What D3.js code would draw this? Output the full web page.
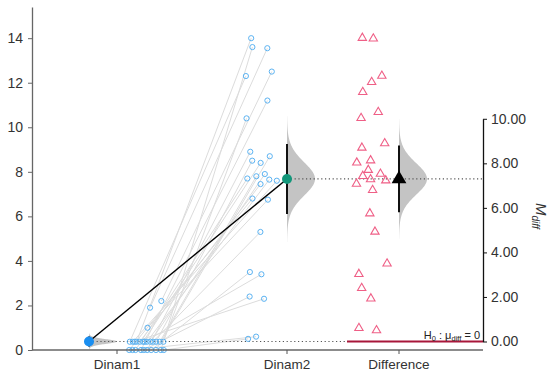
<!DOCTYPE html>
<html><head><meta charset="utf-8">
<script src="https://cdn.jsdelivr.net/npm/d3@7"></script>
<style>body{margin:0;background:#fff;} svg{display:block;font-family:"Liberation Sans",Arial,sans-serif;}</style>
</head><body><svg id="c" width="550" height="378"></svg>
<script>
// ---- data ----
const categories = ["Dinam1", "Dinam2", "Difference"];
const dinam1 = [0.37,0,1.9,2.2,0.37,0,0.37,0,0,0.37,0.37,0.37,0.37,0,0.37,0.37,0.37,0,1.0,0.37,0,0.37,0,0.37,0,0];
const dinam2 = [14.0,13.6,13.55,12.5,12.3,11.2,10.4,8.9,8.7,8.5,8.4,7.9,7.8,7.7,7.65,7.6,7.45,6.8,6.75,5.3,3.5,3.4,2.4,2.3,0.6,0.5];
const leftTicks = [0,2,4,6,8,10,12,14];
const rightTicks = [0,2,4,6,8,10];
const tCrit = 2.0595; // t(0.975, df=25)

// ---- layout ----
const svg = d3.select("#c");
const axisL = 32, axisR = 483, baseY = 350;
const y = d3.scaleLinear().domain([0, 15.4]).range([baseY, 7]);
const xTick = d3.scaleOrdinal().domain(categories).range([117, 287, 399]);

const diff = dinam2.map((v, i) => v - dinam1[i]);
const m1 = d3.mean(dinam1), m2 = d3.mean(dinam2), md = d3.mean(diff);
const se = a => d3.deviation(a) / Math.sqrt(a.length);
const y2 = d3.scaleLinear().domain([0, 10]).range([y(m1), y(m1 + 10)]);

// deterministic jitter: random offset, re-drawn if it collides
function rng(seed){ let s = seed >>> 0; return () => { s = (Math.imul(s, 1664525) + 1013904223) >>> 0; return s / 4294967296; }; }
function jitter(pys, cx, w, seed, minD){
  const r = rng(seed), placed = [];
  return pys.map(py => {
    let best = cx, bestD = -1;
    for (let k = 0; k < 40; k++) {
      const c = cx + (r() * 2 - 1) * w;
      let d = Infinity;
      placed.forEach(p => { d = Math.min(d, Math.hypot(p[0] - c, p[1] - py)); });
      if (d >= minD) { best = c; bestD = d; break; }
      if (d > bestD) { bestD = d; best = c; }
    }
    placed.push([best, py]);
    return best;
  });
}
const py1 = dinam1.map(v => y(v)), py2 = dinam2.map(v => y(v)), pyd = diff.map(v => y2(v));
const px1 = jitter(py1, xTick("Dinam1") + 29, 18, 7, 4);
const px2 = jitter(py2, xTick("Dinam2") - 27, 17, 11, 7);
const pxd = jitter(pyd, xTick("Difference") - 28, 17, 23, 8);
const mx1 = xTick("Dinam1") - 28, mx2 = xTick("Dinam2"), mxd = xTick("Difference");

// ---- paired lines ----
svg.append("g").selectAll("line").data(dinam1).join("line")
  .attr("x1", (d, i) => px1[i]).attr("y1", (d, i) => py1[i])
  .attr("x2", (d, i) => px2[i]).attr("y2", (d, i) => py2[i])
  .attr("stroke", "#dcdcdc").attr("stroke-width", 1);

// ---- densities ----
const df = dinam1.length - 1;
const tpdf = t => Math.pow(1 + t * t / df, -(df + 1) / 2);
function density(cx, m, s, scaleY, width){
  const pts = d3.range(-3.7, 3.7001, 0.05).map(z => [cx + width * tpdf(z), scaleY(m + z * s)]);
  const path = d3.line()([[cx, scaleY(m - 3.7 * s)], ...pts, [cx, scaleY(m + 3.7 * s)]]);
  svg.append("path").attr("d", path + "Z").attr("fill", "#c4c4c4").attr("stroke", "none");
}
const yd = v => y2(v);
density(mx1, m1, se(dinam1), y, 28);
density(mx2, m2, se(dinam2), y, 28);
density(mxd, md, se(diff), yd, 28);

// ---- reference lines ----
svg.append("line").attr("x1", mx1).attr("x2", mxd - 52).attr("y1", y(m1)).attr("y2", y(m1))
  .attr("stroke", "#555").attr("stroke-width", 1.2).attr("stroke-dasharray", "1.2,2.6");
svg.append("line").attr("x1", mx2).attr("x2", axisR).attr("y1", y(m2)).attr("y2", y(m2))
  .attr("stroke", "#555").attr("stroke-width", 1.2).attr("stroke-dasharray", "1.2,2.6");
svg.append("line").attr("x1", mxd - 52).attr("x2", axisR).attr("y1", y2(0)).attr("y2", y2(0))
  .attr("stroke", "#a8173a").attr("stroke-width", 2);

// ---- CIs ----
function ci(cx, m, s, scaleY){
  svg.append("line").attr("x1", cx).attr("x2", cx)
    .attr("y1", scaleY(m - tCrit * s)).attr("y2", scaleY(m + tCrit * s))
    .attr("stroke", "#111").attr("stroke-width", 2);
}
ci(mx1, m1, se(dinam1), y);
ci(mx2, m2, se(dinam2), y);
ci(mxd, md, se(diff), yd);

// ---- raw points ----
svg.append("g").selectAll("circle").data(dinam1).join("circle")
  .attr("cx", (d, i) => px1[i]).attr("cy", (d, i) => py1[i]).attr("r", 2.6)
  .attr("fill", "none").attr("stroke", "#5cb3f2").attr("stroke-width", 1);
svg.append("g").selectAll("circle").data(dinam2).join("circle")
  .attr("cx", (d, i) => px2[i]).attr("cy", (d, i) => py2[i]).attr("r", 2.6)
  .attr("fill", "none").attr("stroke", "#5cb3f2").attr("stroke-width", 1);
const tri = d3.symbol().type(d3.symbolTriangle);
svg.append("g").selectAll("path").data(diff).join("path")
  .attr("d", tri.size(30)())
  .attr("transform", (d, i) => `translate(${pxd[i]},${pyd[i]})`)
  .attr("fill", "none").attr("stroke", "#ef5f86").attr("stroke-width", 1.1);

// ---- mean connector & means ----
svg.append("line").attr("x1", mx1).attr("y1", y(m1)).attr("x2", mx2).attr("y2", y(m2))
  .attr("stroke", "#000").attr("stroke-width", 1.4);
svg.append("circle").attr("cx", mx1).attr("cy", y(m1)).attr("r", 5).attr("fill", "#1a8ef0");
svg.append("circle").attr("cx", mx2).attr("cy", y(m2)).attr("r", 5).attr("fill", "#12977a");
svg.append("path").attr("d", d3.symbol().type(d3.symbolTriangle).size(95)())
  .attr("transform", `translate(${mxd},${y2(md)})`).attr("fill", "#000");

// ---- axes ----
const gL = svg.append("g").attr("transform", `translate(${axisL},0)`)
  .call(d3.axisLeft(y).tickValues(leftTicks).tickSize(4).tickPadding(5).tickSizeOuter(0));
gL.select(".domain").attr("stroke", "#666").attr("stroke-width", 1.3);
gL.selectAll(".tick line").attr("stroke", "#666");
gL.selectAll("text").attr("font-size", 14).attr("fill", "#333").attr("font-family", "Liberation Sans, Arial, sans-serif");

svg.append("line").attr("x1", axisL).attr("x2", axisR).attr("y1", baseY).attr("y2", baseY)
  .attr("stroke", "#666").attr("stroke-width", 1.3);
const gB = svg.append("g");
categories.forEach(c => {
  gB.append("line").attr("x1", xTick(c)).attr("x2", xTick(c)).attr("y1", baseY).attr("y2", baseY + 4).attr("stroke", "#555");
  gB.append("text").attr("x", xTick(c)).attr("y", 369).attr("text-anchor", "middle")
    .attr("font-size", 13.5).attr("fill", "#333").text(c);
});

const gR = svg.append("g").attr("transform", `translate(${axisR},0)`)
  .call(d3.axisRight(y2).tickValues(rightTicks).tickFormat(d3.format(".2f")).tickSize(4).tickPadding(4).tickSizeOuter(0));
gR.select(".domain").attr("stroke", "#111").attr("stroke-width", 1.3);
gR.selectAll(".tick line").attr("stroke", "#111");
gR.selectAll("text").attr("font-size", 14).attr("fill", "#333").attr("font-family", "Liberation Sans, Arial, sans-serif");

// right axis title
const mt = svg.append("text").attr("transform", "translate(536,203) rotate(90)")
  .attr("font-size", 15).attr("fill", "#333");
mt.append("tspan").attr("font-style", "italic").text("M");
mt.append("tspan").attr("font-size", 10).attr("dy", 4).attr("font-style", "italic").text("diff");

// H0 label
const h = svg.append("text").attr("x", axisR - 3).attr("y", y2(0) - 3).attr("text-anchor", "end")
  .attr("font-size", 11).attr("fill", "#222");
h.append("tspan").text("H");
h.append("tspan").attr("font-size", 7.5).attr("dy", 2).text("0");
h.append("tspan").attr("dy", -2).text(" : μ");
h.append("tspan").attr("font-size", 7.5).attr("dy", 2).text("diff");
h.append("tspan").attr("dy", -2).text(" = 0");
</script>
</body></html>
